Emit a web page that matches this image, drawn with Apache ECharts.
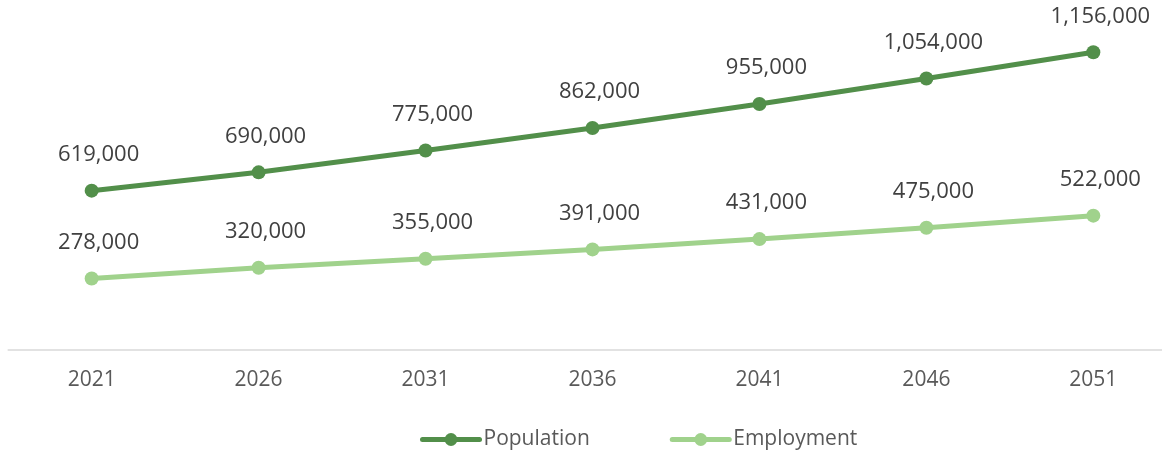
<!DOCTYPE html>
<html>
<head>
<meta charset="utf-8">
<script src="https://cdn.jsdelivr.net/npm/echarts@6/dist/echarts.min.js"></script>
<style>
html,body{margin:0;padding:0;background:#fff;}
#c{width:1162px;height:453px;}
</style>
</head>
<body>
<div id="c"></div>
<script>
const years = ['2021','2026','2031','2036','2041','2046','2051'];
const population = [619000, 690000, 775000, 862000, 955000, 1054000, 1156000];
const employment = [278000, 320000, 355000, 391000, 431000, 475000, 522000];

const FONT = '"Open Sans", sans-serif';
const chart = echarts.init(document.getElementById('c'), null, {renderer: 'canvas'});
const fmt = v => Number(v).toLocaleString('en-US');
function mkSeries(name, data, color) {
  return {
    name: name,
    type: 'line',
    data: data,
    symbol: 'circle',
    symbolSize: 14,
    lineStyle: {color: color, width: 5, cap: 'round'},
    itemStyle: {color: color},
    label: {
      show: true,
      position: 'top',
      distance: 18,
      offset: [7, 0],
      color: '#404040',
      fontFamily: FONT,
      fontSize: 22,
      formatter: p => fmt(p.value)
    }
  };
}
chart.setOption({
  animation: false,
  grid: {left: 8.2, right: -14.8, top: 40.9, bottom: 102.8, containLabel: false, outerBoundsMode: 'none'},
  xAxis: {
    type: 'category',
    data: years,
    boundaryGap: true,
    axisLine: {lineStyle: {color: '#d9d9d9', width: 1.5}},
    axisTick: {show: false},
    axisLabel: {color: '#595959', fontFamily: FONT, fontSize: 21, margin: 19, interval: 0}
  },
  yAxis: {
    type: 'value',
    min: 0,
    max: 1200000,
    show: false,
    splitLine: {show: false}
  },
  legend: {
    left: 420,
    top: 429,
    padding: 0,
    itemWidth: 57,
    itemHeight: 16,
    itemGap: 80,
    lineStyle: {width: 5, cap: 'round'},
    textStyle: {color: '#595959', fontFamily: FONT, fontSize: 21, padding: [0,0,0,-1]},
    data: ['Population', 'Employment']
  },
  series: [
    mkSeries('Population', population, '#528f4a'),
    mkSeries('Employment', employment, '#a0d28c')
  ]
});
</script>
</body>
</html>
